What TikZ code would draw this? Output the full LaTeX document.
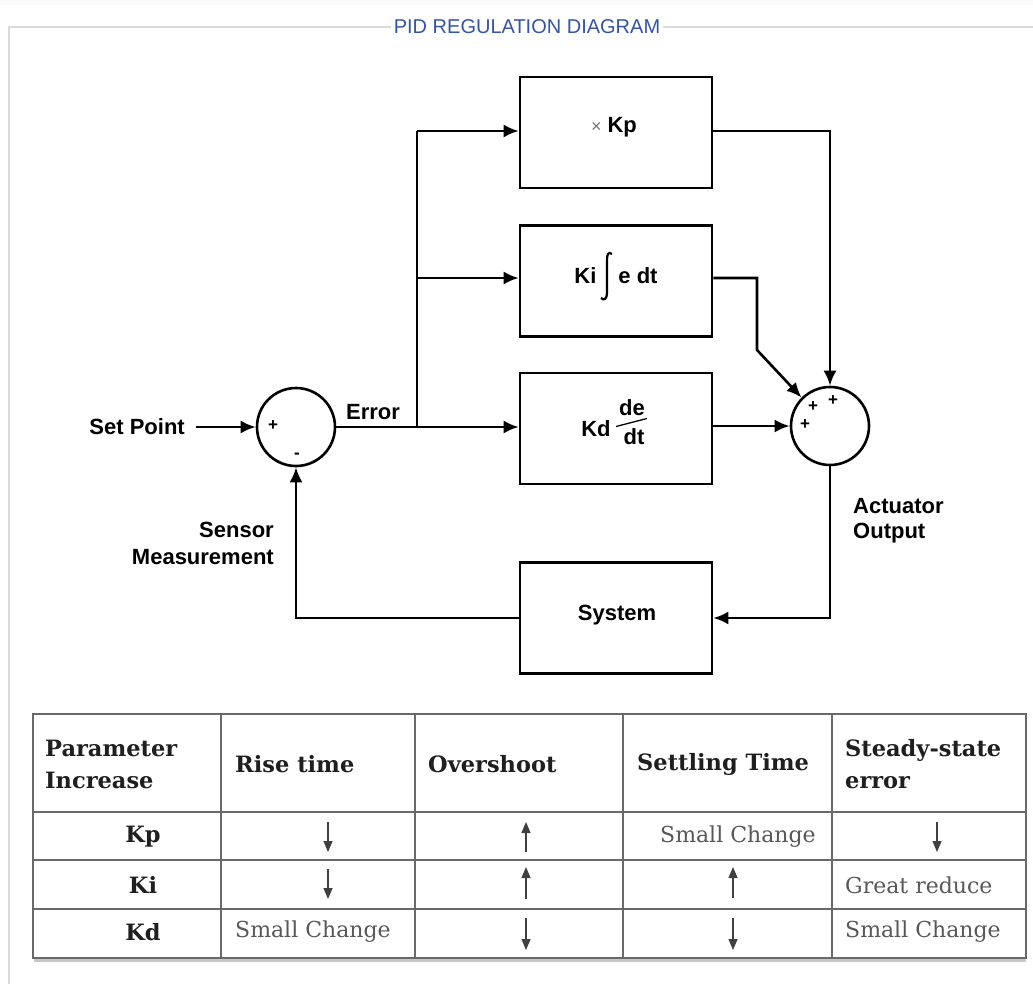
\documentclass[tikz,border=0pt]{standalone}
\usepackage{fontspec}
\setmainfont{DejaVu Serif}
\newfontfamily\diagfont{Liberation Sans}
\usetikzlibrary{arrows.meta,calc}
\definecolor{titleblue}{RGB}{52,84,168}
\definecolor{framegray}{RGB}{218,218,218}
\definecolor{tablegray}{RGB}{105,105,105}
\definecolor{bodygray}{RGB}{88,88,88}
\begin{document}
\begin{tikzpicture}[x=1pt,y=-1pt,
  blk/.style={draw, line width=2.6pt, minimum width=192pt, minimum height=111pt, inner sep=0pt},
  sumc/.style={draw, circle, line width=2.6pt, minimum size=78pt, inner sep=0pt},
  lbl/.style={font=\diagfont\bfseries\fontsize{22}{26}\selectfont, inner sep=0pt},
  sgn/.style={font=\diagfont\bfseries\fontsize{17}{17}\selectfont, inner sep=0pt},
  wire/.style={line width=2.6pt},
  conn/.style={line width=2.6pt, -{Latex[length=15pt,width=13pt]}},
  tline/.style={draw=tablegray, line width=1.5pt},
  thb/.style={font=\bfseries\fontsize{22.5}{32}\selectfont, text=black!88, inner sep=0pt},
  tbd/.style={font=\fontsize{22}{32}\selectfont, text=bodygray, inner sep=0pt},
  tarr/.style={line width=1.2pt, draw=black!75, -{Triangle[length=11pt,width=9pt]}}]
\useasboundingbox (0,0) rectangle (1033,984);
\fill[white] (0,0) rectangle (1033,984);
\fill[black!2] (0,0) rectangle (1033,5);
% frame and title
\draw[framegray, line width=2pt] (1033,27) -- (9,27) -- (9,984);
\node[font=\diagfont\fontsize{20}{24}\selectfont, text=titleblue, fill=white, inner xsep=3pt, inner ysep=2pt] (title) at (527,27) {PID REGULATION DIAGRAM};
% blocks
\node[blk] (kp) at (616,132.5) {};
\node[blk] (ki) at (616,281) {};
\node[blk] (kd) at (616,428.5) {};
\node[blk] (sys) at (616,618) {};
\node[sumc] (s1) at (296,427) {};
\node[sumc] (s2) at (830,426) {};
% block texts
\node[lbl] (kptxt) at (614,127) {\textcolor{black!55}{\mdseries\fontsize{18}{18}\selectfont ×}\hspace{6pt}Kp};
\node[lbl] (kitxt) at (616,276) {Ki\hspace{22pt}e dt};
\draw[line width=2.2pt] (612,254) .. controls (608,251) and (607,255) .. (607,260) -- (607,293) .. controls (607,299) and (604,301) .. (601,298);
\node[lbl] (kdk) at (596,429) {Kd};
\node[lbl] (kdn) at (632,408) {de};
\node[lbl] (kdd) at (634,437) {dt};
\draw[line width=1.3pt] (616,426.5) -- (647,418.5);
\node[lbl] (systxt) at (617,615) {System};
% signs
\node[sgn] (p1) at (273,426) {+};
\node[sgn] (m1) at (297,456) {-};
\node[sgn] (p2) at (813,407) {+};
\node[sgn] (p3) at (833,401) {+};
\node[sgn] (p4) at (805,425) {+};
% labels
\node[lbl, anchor=east] (sp) at (185,427) {Set Point};
\node[lbl] (err) at (373,412) {Error};
\node[lbl, anchor=east, align=right, font=\diagfont\bfseries\fontsize{22}{27}\selectfont] (sens) at (274,543) {Sensor\\Measurement};
\node[lbl, anchor=west, align=left, font=\diagfont\bfseries\fontsize{22}{25}\selectfont] (act) at (853,521) {Actuator\\Output};
% connectors
\coordinate (br) at (417,427);
\coordinate (bkp) at (417,131);
\coordinate (bki) at (417,278);
\coordinate (kic) at (757,278);
\coordinate (kid) at (757,350);
\draw[conn] ([xshift=11pt]sp.east) -- (s1.west);
\draw[conn] (s1.east) -- (s1.east -| kd.west);
\draw[wire] (br) -- (bkp);
\draw[conn] (bkp) -- (bkp -| kp.west);
\draw[conn] (bki) -- (bki -| ki.west);
\draw[conn] (kp.east |- bkp) -- (bkp -| s2.north) -- (s2.north);
\draw[conn] (ki.east |- bki) -- (kic) -- (kid) -- (s2.135);
\draw[conn] (s2.west -| kd.east) -- (s2.west);
\draw[conn] (s2.south) -- (s2.south |- sys.east) -- (sys.east);
\draw[conn] (sys.west) -- (sys.west -| s1.south) -- (s1.south);
% table
\draw[black!22, line width=3pt] (34,960.5) -- (1026,960.5);
\draw[tline] (33,714) rectangle (1026,958);
\foreach \xx in {221,415,623,832} \draw[tline] (\xx,714) -- (\xx,958);
\foreach \yy in {812,860,909} \draw[tline] (33,\yy) -- (1026,\yy);
\node[thb, anchor=west, align=left] (h1) at (45,764) {Parameter\\Increase};
\node[thb, anchor=west] (h2) at (235,764) {Rise time};
\node[thb, anchor=west] (h3) at (428,764) {Overshoot};
\node[thb, anchor=west] (h4) at (637,764) {Settling Time};
\node[thb, anchor=west, align=left] (h5) at (845,764) {Steady-state\\error};
\node[thb] (rkp) at (143,837) {Kp};
\node[thb] (rki) at (143,885) {Ki};
\node[thb] (rkd) at (143,932) {Kd};
\node[tbd, anchor=west] (c14) at (660,837) {Small Change};
\node[tbd, anchor=west] (c25) at (845,885) {Great reduce};
\node[tbd, anchor=west] (c32) at (235,932) {Small Change};
\node[tbd, anchor=west] (c35) at (845,932) {Small Change};
\draw[tarr] (328,822) -- (328,852);
\draw[tarr] (526,852) -- (526,822);
\draw[tarr] (937,822) -- (937,852);
\draw[tarr] (328,869) -- (328,899);
\draw[tarr] (526,899) -- (526,867);
\draw[tarr] (733,898) -- (733,867);
\draw[tarr] (526,918) -- (526,950);
\draw[tarr] (733,918) -- (733,950);
\end{tikzpicture}
\end{document}
